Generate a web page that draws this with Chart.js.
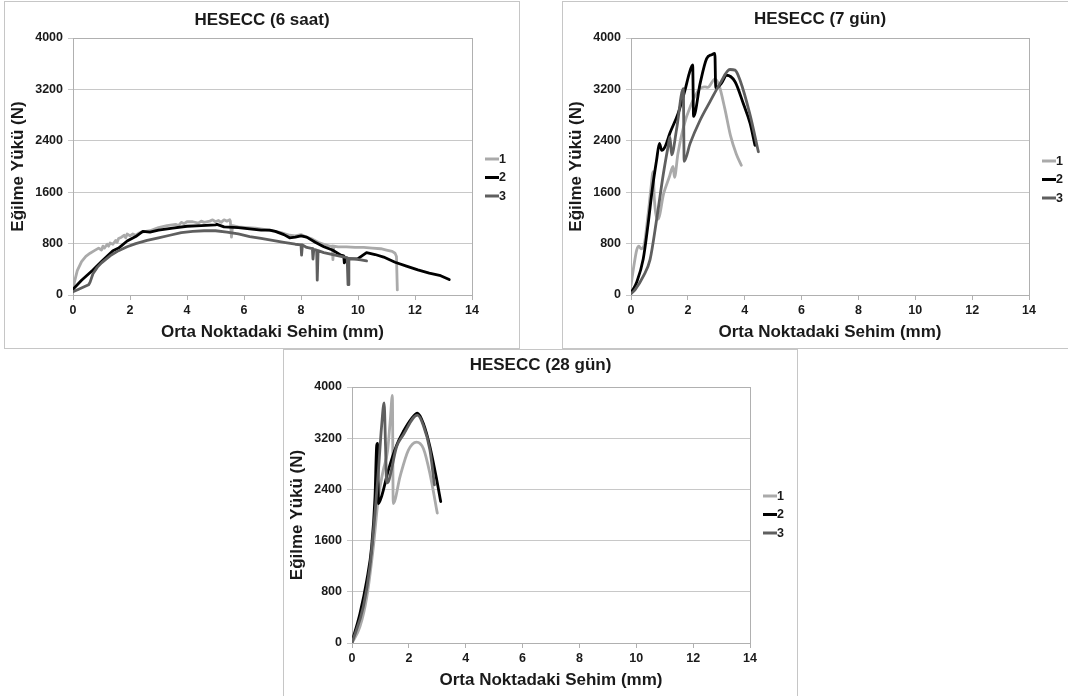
<!DOCTYPE html>
<html lang="tr">
<head>
<meta charset="UTF-8">
<title>HESECC - Eğilme Yükü / Sehim</title>
<script src="https://cdn.jsdelivr.net/npm/chart.js@4"></script>
<style>
  body { margin: 0; background: #fff; }
  #wrap { position: relative; width: 1068px; height: 696px; overflow: hidden; background: #fff; }
  .panel { position: absolute; box-sizing: border-box; border: 1px solid #c6c6c6; background: #fff; }
  .panel canvas { display: block; }
</style>
</head>
<body>
<div id="wrap">
  <div class="panel" style="left:4px;top:1px;width:516px;height:348px"><canvas id="c6saat" width="514" height="346"></canvas></div>
  <div class="panel" style="left:562px;top:1px;width:516px;height:348px"><canvas id="c7gun" width="514" height="346"></canvas></div>
  <div class="panel" style="left:283px;top:349px;width:515px;height:348px"><canvas id="c28gun" width="513" height="346"></canvas></div>
</div>
<script>
// axis ticks and labels
const xTicks = [0, 2, 4, 6, 8, 10, 12, 14];
const yTicks = [0, 800, 1600, 2400, 3200, 4000];
const xTitle = 'Orta Noktadaki Sehim (mm)';
const yTitle = 'Eğilme Yükü (N)';
const seriesNames = ['1', '2', '3'];
const seriesColors = ['#aaaaaa', '#000000', '#5f5f5f'];

// HESECC (6 saat)
const saat6_x1 = [0, 0.05, 0.15, 0.3, 0.45, 0.6, 0.75, 0.9, 1.0, 1.05, 1.1, 1.2, 1.25, 1.3, 1.4, 1.5, 1.55, 1.6, 1.7, 1.8, 1.85, 1.9, 2.0, 2.1, 2.2, 2.3, 2.4, 2.7, 3.0, 3.3, 3.6, 3.7, 3.8, 3.9, 4.0, 4.2, 4.4, 4.5, 4.6, 4.8, 4.9, 5.0, 5.1, 5.2, 5.3, 5.4, 5.5, 5.52, 5.56, 5.6, 5.8, 6.1, 6.4, 6.7, 7.0, 7.3, 7.6, 7.8, 8.0, 8.2, 8.4, 8.6, 8.8, 9.0, 9.1, 9.12, 9.15, 9.3, 9.6, 9.9, 10.2, 10.5, 10.8, 11.0, 11.2, 11.3, 11.35, 11.38];
const saat6_y1 = [60, 200, 380, 520, 600, 650, 690, 730, 700, 760, 730, 790, 760, 810, 790, 850, 820, 880, 900, 930, 890, 950, 920, 950, 930, 960, 980, 1000, 1050, 1080, 1100, 1080, 1130, 1110, 1140, 1140, 1120, 1150, 1130, 1150, 1170, 1140, 1160, 1130, 1170, 1150, 1170, 1150, 900, 1080, 1060, 1050, 1040, 1020, 1000, 970, 930, 920, 940, 900, 870, 820, 790, 760, 760, 550, 760, 750, 750, 740, 740, 730, 720, 700, 680, 650, 600, 80];
const saat6_x2 = [0, 0.3, 0.7, 1.0, 1.4, 1.6, 1.9, 2.2, 2.45, 2.7, 3.0, 3.5, 4.0, 4.5, 5.0, 5.05, 5.3, 5.8, 6.2, 6.6, 6.9, 7.1, 7.4, 7.6, 7.8, 8.0, 8.2, 8.5, 8.8, 9.1, 9.4, 9.5, 9.52, 9.6, 10.0, 10.3, 10.6, 10.9, 11.3, 11.7, 12.1, 12.5, 12.9, 13.1, 13.2];
const saat6_y2 = [90, 230, 390, 520, 690, 730, 840, 910, 990, 980, 1010, 1040, 1070, 1080, 1090, 1100, 1060, 1050, 1030, 1010, 1010, 990, 940, 890, 900, 920, 900, 820, 750, 700, 620, 610, 500, 560, 565, 660, 630, 590, 510, 450, 390, 340, 300, 260, 240];
const saat6_x3 = [0, 0.2, 0.45, 0.55, 0.6, 0.7, 0.85, 1.0, 1.3, 1.6, 1.9, 2.2, 2.6, 3.0, 3.4, 3.8, 4.2, 4.6, 5.0, 5.4, 5.8, 6.2, 6.6, 7.0, 7.4, 7.8, 8.0, 8.02, 8.05, 8.2, 8.4, 8.42, 8.45, 8.55, 8.57, 8.6, 8.8, 9.0, 9.2, 9.4, 9.62, 9.65, 9.68, 9.9, 10.1, 10.3];
const saat6_y3 = [50, 90, 140, 160, 200, 330, 430, 500, 610, 690, 750, 800, 850, 890, 930, 970, 990, 1000, 1000, 980, 950, 910, 880, 850, 820, 790, 780, 620, 780, 740, 720, 560, 710, 700, 230, 690, 660, 640, 620, 600, 580, 160, 570, 560, 545, 530];

// HESECC (7 gün)
const gun7_x1 = [0, 0.1, 0.2, 0.28, 0.35, 0.45, 0.6, 0.7, 0.78, 0.82, 0.95, 1.15, 1.35, 1.48, 1.53, 1.65, 1.85, 2.1, 2.4, 2.6, 2.7, 2.95, 3.1, 3.3, 3.5, 3.7, 3.88];
const gun7_y1 = [150, 450, 700, 760, 720, 760, 1250, 1650, 1920, 1500, 1180, 1580, 1840, 2000, 1830, 2200, 2620, 2950, 3200, 3240, 3230, 3360, 3260, 2900, 2480, 2200, 2020];
const gun7_x2 = [0, 0.2, 0.43, 0.6, 0.75, 0.9, 1.0, 1.08, 1.2, 1.37, 1.66, 1.9, 2.05, 2.17, 2.2, 2.43, 2.66, 2.84, 2.95, 2.98, 3.19, 3.36, 3.66, 3.95, 4.19, 4.36];
const gun7_y2 = [30, 200, 560, 1100, 1650, 2100, 2360, 2250, 2310, 2520, 2830, 3190, 3450, 3580, 2780, 3290, 3680, 3740, 3760, 3220, 3300, 3420, 3320, 2980, 2670, 2330];
const gun7_x3 = [0, 0.14, 0.43, 0.67, 0.9, 1.14, 1.3, 1.37, 1.43, 1.6, 1.84, 1.87, 2.08, 2.43, 2.78, 3.13, 3.48, 3.66, 3.83, 4.19, 4.48];
const gun7_y3 = [20, 80, 290, 550, 1170, 1890, 2300, 2460, 2180, 2570, 3210, 2080, 2360, 2720, 3010, 3290, 3510, 3500, 3350, 2800, 2230];

// HESECC (28 gün)
const gun28_x1 = [0, 0.28, 0.52, 0.75, 0.93, 1.1, 1.25, 1.35, 1.42, 1.45, 1.69, 1.98, 2.27, 2.51, 2.74, 3.0];
const gun28_y1 = [0, 255, 720, 1500, 2280, 2700, 3000, 3500, 3870, 2180, 2600, 3010, 3140, 3040, 2650, 2030];
const gun28_x2 = [0, 0.28, 0.52, 0.69, 0.81, 0.87, 0.9, 0.93, 1.04, 1.28, 1.57, 1.8, 2.1, 2.3, 2.51, 2.74, 2.98, 3.12];
const gun28_y2 = [20, 460, 980, 1500, 2290, 3090, 3120, 2180, 2290, 2700, 3090, 3300, 3510, 3590, 3430, 3070, 2550, 2210];
const gun28_x3 = [0, 0.4, 0.63, 0.81, 0.93, 1.04, 1.13, 1.18, 1.22, 1.28, 1.57, 1.8, 2.3, 2.51, 2.74, 2.9];
const gun28_y3 = [0, 570, 1190, 2030, 2700, 3380, 3750, 3070, 2500, 2520, 3070, 3250, 3560, 3400, 3020, 2470];

const fontFamily = "'Liberation Sans', Arial, sans-serif";
const textColor = '#1a1a1a';
const gridColor = '#c8c8c8';
const axisColor = '#b0b0b0';

// grey frame round the plot area (right edge is missing otherwise)
const plotFrame = {
  id: 'plotFrame',
  beforeDatasetsDraw(chart) {
    const a = chart.chartArea;
    const ctx = chart.ctx;
    ctx.save();
    ctx.strokeStyle = axisColor;
    ctx.lineWidth = 1;
    ctx.strokeRect(Math.round(a.left) + 0.5, Math.round(a.top) + 0.5, Math.round(a.right - a.left), Math.round(a.bottom - a.top));
    ctx.restore();
  }
};

// small excel style legend on the right side
const sideLegend = {
  id: 'sideLegend',
  afterDraw(chart, args, opts) {
    const ctx = chart.ctx;
    const x = chart.chartArea.right + opts.dx;
    ctx.save();
    ctx.font = 'bold 12.5px ' + fontFamily;
    ctx.textBaseline = 'middle';
    chart.data.datasets.forEach((ds, i) => {
      const y = opts.y + i * opts.gap;
      ctx.strokeStyle = ds.borderColor;
      ctx.lineWidth = 3;
      ctx.beginPath();
      ctx.moveTo(x, y);
      ctx.lineTo(x + 14, y);
      ctx.stroke();
      ctx.fillStyle = textColor;
      ctx.fillText(ds.label, x + 14, y + 0.5);
    });
    ctx.restore();
  }
};

function makeChart(id, title, xs, ys, smooth, layout) {
  const datasets = xs.map((xArr, i) => ({
    label: seriesNames[i],
    data: xArr.map((x, j) => ({ x: x, y: ys[i][j] })),
    borderColor: seriesColors[i],
    backgroundColor: seriesColors[i],
    borderWidth: 2.8,
    pointRadius: 0,
    borderJoinStyle: 'round',
    borderCapStyle: 'round',
    cubicInterpolationMode: smooth ? 'monotone' : 'default',
    tension: 0,
    order: 3 - i
  }));

  new Chart(document.getElementById(id), {
    type: 'line',
    data: { datasets: datasets },
    plugins: [plotFrame, sideLegend],
    options: {
      responsive: false,
      animation: false,
      parsing: false,
      layout: { padding: 0 },
      plugins: {
        legend: { display: false },
        tooltip: { enabled: false },
        title: {
          display: true,
          text: title,
          color: textColor,
          font: { family: fontFamily, size: 17, weight: 'bold' },
          padding: { top: layout.titleTop, bottom: layout.titleBottom }
        },
        sideLegend: { dx: 13, y: layout.legendY, gap: 18.5 }
      },
      scales: {
        x: {
          type: 'linear',
          min: xTicks[0],
          max: xTicks[xTicks.length - 1],
          afterBuildTicks: s => { s.ticks = xTicks.map(v => ({ value: v })); },
          afterFit: s => { s.height = 53; },
          grid: { drawOnChartArea: false, drawTicks: true, tickLength: 5, color: axisColor },
          border: { color: axisColor },
          ticks: { color: textColor, font: { family: fontFamily, size: 12.5, weight: 'bold' }, padding: 3, maxRotation: 0, callback: v => String(v) },
          title: {
            display: true, text: xTitle, color: textColor,
            font: { family: fontFamily, size: 17, weight: 'bold' },
            padding: { top: 0, bottom: 5 }
          }
        },
        y: {
          type: 'linear',
          min: yTicks[0],
          max: yTicks[yTicks.length - 1],
          afterBuildTicks: s => { s.ticks = yTicks.map(v => ({ value: v })); },
          afterFit: s => { s.width = 68; },
          grid: { color: gridColor, tickLength: 5 },
          border: { color: axisColor },
          ticks: { color: textColor, font: { family: fontFamily, size: 12.5, weight: 'bold' }, padding: 5, callback: v => String(v) },
          title: {
            display: true, text: yTitle, color: textColor,
            font: { family: fontFamily, size: 17, weight: 'bold' },
            padding: { top: 3, bottom: 0 }
          }
        },
        // empty box on the right that keeps room for the legend
        legendRoom: {
          type: 'linear',
          position: 'right',
          afterFit: s => { s.width = layout.padRight; },
          grid: { display: false },
          border: { display: false },
          ticks: { display: false }
        }
      }
    }
  });
}

makeChart('c6saat', 'HESECC (6 saat)',
  [saat6_x1, saat6_x2, saat6_x3], [saat6_y1, saat6_y2, saat6_y3], false,
  { padRight: 47, titleTop: 8, titleBottom: 7.6, legendY: 157 });

makeChart('c7gun', 'HESECC (7 gün)',
  [gun7_x1, gun7_x2, gun7_x3], [gun7_y1, gun7_y2, gun7_y3], true,
  { padRight: 48, titleTop: 7.5, titleBottom: 8.1, legendY: 159 });

makeChart('c28gun', 'HESECC (28 gün)',
  [gun28_x1, gun28_x2, gun28_x3], [gun28_y1, gun28_y2, gun28_y3], true,
  { padRight: 47, titleTop: 5.5, titleBottom: 11.1, legendY: 146 });
</script>
</body>
</html>
